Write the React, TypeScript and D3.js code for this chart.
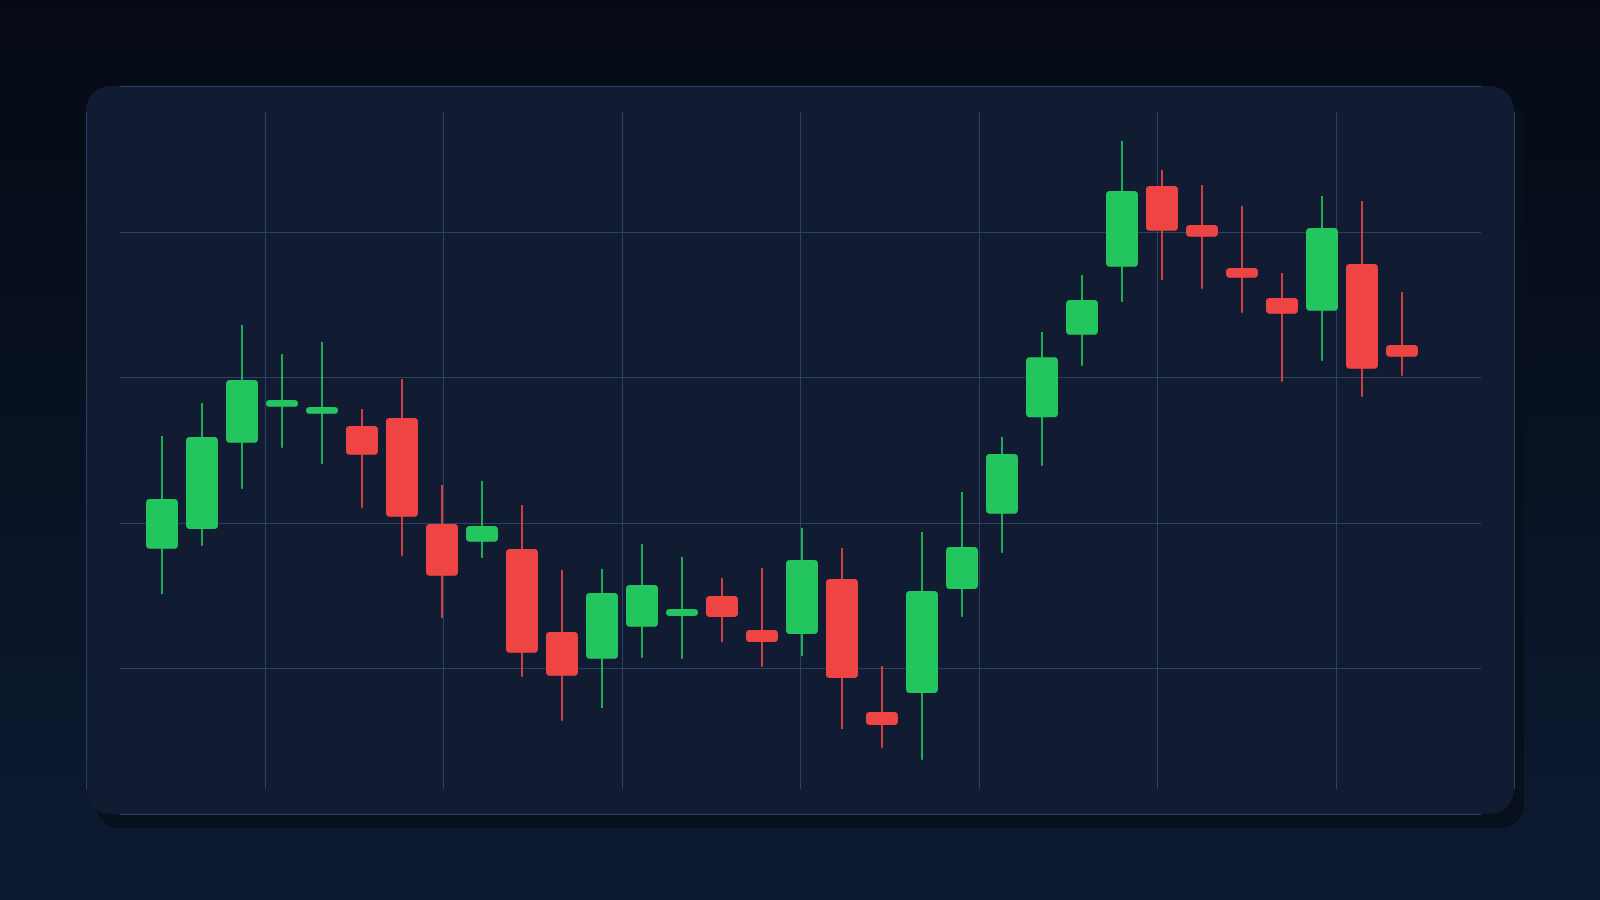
import * as d3 from 'd3'

// OHLC per session
const opens = [
  98.22, 99.57, 105.5, 107.97, 107.49, 106.65, 107.2, 99.92, 98.7, 98.2, 92.5, 90.67, 92.86, 93.6, 94.97, 92.64,
  92.36, 96.14, 87.01, 88.31, 95.45, 100.63, 107.25, 112.92, 117.59, 123.13, 120.45, 117.5, 115.44, 114.57, 117.77, 112.21,
]
const highs = [
  105.96, 108.23, 113.59, 111.59, 112.42, 107.82, 109.88, 102.6, 102.87, 101.22, 96.76, 96.83, 98.54, 97.65, 96.21, 96.9,
  99.64, 98.27, 90.16, 99.37, 102.12, 105.89, 113.1, 117.02, 126.22, 124.23, 123.2, 121.76, 117.16, 122.45, 122.1, 115.85,
]
const lows = [
  95.11, 98.43, 102.34, 105.16, 104.04, 101.04, 97.74, 93.46, 97.58, 89.43, 86.41, 87.28, 90.74, 90.67, 91.81, 90.12,
  90.85, 85.84, 84.55, 83.73, 93.55, 97.95, 103.92, 110.79, 115.16, 116.68, 116.08, 114.43, 109.69, 111.13, 108.66, 110.1,
]
const closes = [
  101.63, 105.89, 109.81, 108.43, 107.95, 104.68, 100.42, 96.37, 99.78, 91.08, 89.5, 95.18, 95.73, 94.08, 93.53, 91.81,
  97.45, 89.34, 86.11, 95.32, 98.34, 104.73, 111.37, 115.3, 122.79, 120.06, 119.65, 116.83, 114.36, 120.25, 110.58, 111.41,
]
const priceTicks = [80, 90, 100, 110, 120, 130]
const gridColumns = 8

const width = 1600
const height = 900
const panel = { x: 86, y: 86, w: 1428, h: 728, r: 24 }

const UP = '#22c55e'
const DOWN = '#ef4444'

export default function App() {
  const idx = d3.range(opens.length)

  const x = d3.scaleBand<number>()
    .domain(idx)
    .range([142, 1422])
    .paddingInner(0.2)
    .paddingOuter(0.1)

  const y = d3.scaleLinear()
    .domain([80, 130])
    .range([panel.y + panel.h, panel.y])

  const gx = d3.scaleLinear()
    .domain([0, gridColumns])
    .range([panel.x, panel.x + panel.w])

  const bw = x.bandwidth()

  return (
    <div style={{ position: 'fixed', inset: 0, background: '#0a1426' }}>
      <svg width={width} height={height} style={{ display: 'block' }}>
        <defs>
          <linearGradient id="bg" x1="0" y1="0" x2="0" y2="1">
            <stop offset="0%" stopColor="#050a14" />
            <stop offset="100%" stopColor="#0c1a31" />
          </linearGradient>
        </defs>
        <rect width={width} height={height} fill="url(#bg)" />

        {/* card shadow + card */}
        <rect x={panel.x + 10} y={panel.y + 14} width={panel.w} height={panel.h} rx={panel.r} fill="#07101c" />
        <rect x={panel.x} y={panel.y} width={panel.w} height={panel.h} rx={panel.r} fill="#111b31" />

        {/* grid */}
        <g stroke="#2a4264" strokeWidth={1}>
          {priceTicks.map((t) => (
            <line key={'h' + t} x1={120} x2={1481} y1={Math.round(y(t)) + 0.5} y2={Math.round(y(t)) + 0.5} />
          ))}
          {d3.range(gridColumns + 1).map((k) => (
            <line key={'v' + k} x1={Math.round(gx(k)) + 0.5} x2={Math.round(gx(k)) + 0.5} y1={112} y2={789} />
          ))}
        </g>

        {/* candles */}
        {idx.map((i) => {
          const up = closes[i] >= opens[i]
          const color = up ? UP : DOWN
          const cx = (x(i) ?? 0) + bw / 2
          const top = y(Math.max(opens[i], closes[i]))
          const bot = y(Math.min(opens[i], closes[i]))
          const h = Math.max(bot - top, 2)
          return (
            <g key={i}>
              <line x1={cx} x2={cx} y1={y(highs[i])} y2={y(lows[i])} stroke={color} strokeWidth={2} strokeOpacity={0.85} />
              <rect x={x(i)} y={top} width={bw} height={h} rx={4} fill={color} />
            </g>
          )
        })}
      </svg>
    </div>
  )
}
